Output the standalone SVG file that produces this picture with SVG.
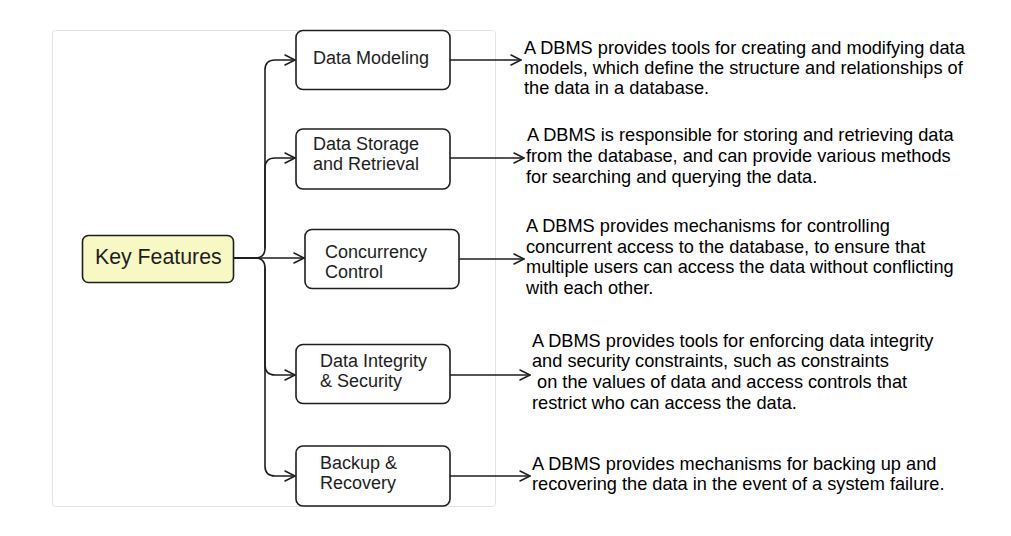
<svg xmlns="http://www.w3.org/2000/svg" width="1011" height="536" viewBox="0 0 1011 536">
<defs>
<marker id="arr" markerUnits="userSpaceOnUse" markerWidth="12" markerHeight="12" refX="11" refY="6" orient="auto">
<path d="M1,1 L11,6 L1,11" fill="none" stroke="#1e1e1e" stroke-width="1.5" stroke-linecap="round" stroke-linejoin="round"/>
</marker>
</defs>
<style>
.box{fill:#ffffff;stroke:#1e1e1e;stroke-width:1.6}
.key{fill:#f8f8c4;stroke:#1e1e1e;stroke-width:1.6}
.lbl{font-family:"Liberation Sans",Arial,sans-serif;font-size:18px;fill:#1e1e1e}
.klbl{font-family:"Liberation Sans",Arial,sans-serif;font-size:21.3px;fill:#1e1e1e}
.desc{font-family:"Liberation Sans",Arial,sans-serif;font-size:18.2px;fill:#000000}
.con{fill:none;stroke:#1e1e1e;stroke-width:1.6;stroke-linecap:round}
</style>
<rect width="1011" height="536" fill="#ffffff"/>
<rect x="52.5" y="30.5" width="443" height="476" rx="3" fill="#ffffff" stroke="#e3e3e3" stroke-width="1"/>
<g id="connectors">
<path class="con" d="M234,258 H255 Q265,258 265,248 V70 Q265,60 275,60 H295" marker-end="url(#arr)"/>
<path class="con" d="M265,248 V168 Q265,158 275,158 H295" marker-end="url(#arr)"/>
<path class="con" d="M234,258 H304" marker-end="url(#arr)"/>
<path class="con" d="M234,258 H255 Q265,258 265,268 V365 Q265,375 275,375 H295" marker-end="url(#arr)"/>
<path class="con" d="M265,268 V466 Q265,476 275,476 H295" marker-end="url(#arr)"/>
<path class="con" d="M450,60 H521" marker-end="url(#arr)"/>
<path class="con" d="M450,158 H524" marker-end="url(#arr)"/>
<path class="con" d="M459,259 H524" marker-end="url(#arr)"/>
<path class="con" d="M450,375 H530" marker-end="url(#arr)"/>
<path class="con" d="M450,476 H530" marker-end="url(#arr)"/>
</g>
<g id="key-features">
<rect class="key" x="82.5" y="235.5" width="151" height="47" rx="6"/>
<text class="klbl" x="95" y="264">Key Features</text>
</g>
<g id="data-modeling">
<rect class="box" x="296" y="30.5" width="154" height="59" rx="7"/>
<text class="lbl" x="313" y="64">Data Modeling</text>
</g>
<g id="data-storage">
<rect class="box" x="296" y="129" width="154" height="60" rx="7"/>
<text class="lbl" x="313" y="150">Data Storage</text>
<text class="lbl" x="313" y="170">and Retrieval</text>
</g>
<g id="concurrency">
<rect class="box" x="305" y="229.5" width="154" height="59" rx="7"/>
<text class="lbl" x="325" y="258">Concurrency</text>
<text class="lbl" x="325" y="278">Control</text>
</g>
<g id="data-integrity">
<rect class="box" x="296" y="344.5" width="154" height="59" rx="7"/>
<text class="lbl" x="320" y="367">Data Integrity</text>
<text class="lbl" x="320" y="387">&amp; Security</text>
</g>
<g id="backup">
<rect class="box" x="296" y="446" width="154" height="60" rx="7"/>
<text class="lbl" x="320" y="469">Backup &amp;</text>
<text class="lbl" x="320" y="489">Recovery</text>
</g>
<g id="desc-modeling">
<text class="desc" x="524" y="54">A DBMS provides tools for creating and modifying data</text>
<text class="desc" x="524" y="74">models, which define the structure and relationships of</text>
<text class="desc" x="524" y="94">the data in a database.</text>
</g>
<g id="desc-storage">
<text class="desc" x="527" y="141">A DBMS is responsible for storing and retrieving data</text>
<text class="desc" x="526" y="162">from the database, and can provide various methods</text>
<text class="desc" x="526" y="183">for searching and querying the data.</text>
</g>
<g id="desc-concurrency">
<text class="desc" x="526" y="232">A DBMS provides mechanisms for controlling</text>
<text class="desc" x="526" y="253">concurrent access to the database, to ensure that</text>
<text class="desc" x="526" y="273">multiple users can access the data without conflicting</text>
<text class="desc" x="526" y="294">with each other.</text>
</g>
<g id="desc-integrity">
<text class="desc" x="532" y="347">A DBMS provides tools for enforcing data integrity</text>
<text class="desc" x="532" y="367">and security constraints, such as constraints</text>
<text class="desc" x="532" y="388" xml:space="preserve"> on the values of data and access controls that</text>
<text class="desc" x="532" y="409">restrict who can access the data.</text>
</g>
<g id="desc-backup">
<text class="desc" x="532" y="470">A DBMS provides mechanisms for backing up and</text>
<text class="desc" x="532" y="490">recovering the data in the event of a system failure.</text>
</g>
</svg>
